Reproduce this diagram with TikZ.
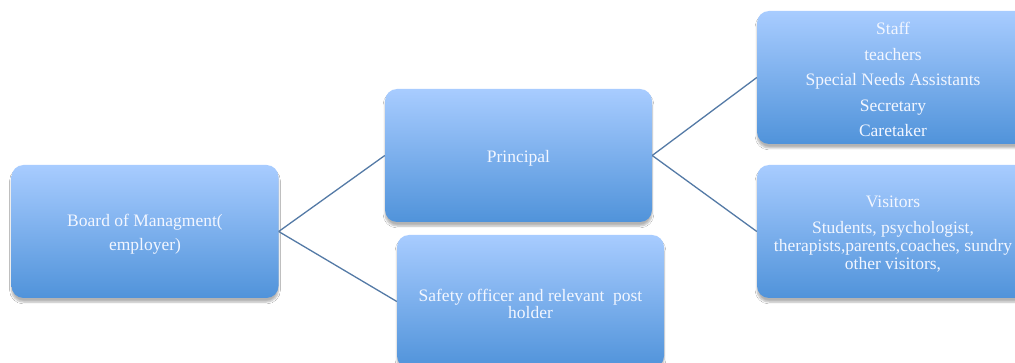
\documentclass[tikz,border=0pt]{standalone}
\usepackage{fontspec}
\setmainfont{Liberation Serif}
\usetikzlibrary{shadows.blur}
\definecolor{boxtop}{RGB}{168,204,255}
\definecolor{boxbot}{RGB}{80,147,218}
\definecolor{linkc}{RGB}{84,122,166}
\definecolor{txt}{RGB}{242,246,255}
\tikzset{
  orgbox/.style={rounded corners=12pt, top color=boxtop, bottom color=boxbot, draw=none,
    minimum width=267pt, minimum height=133pt, inner sep=0pt,
    blur shadow={shadow blur steps=6, shadow xshift=0pt, shadow yshift=-4pt, shadow opacity=30}},
  boxtext/.style={text=txt, align=center, inner sep=0pt, font=\fontsize{17.5}{18}\selectfont},
  link/.style={draw=linkc, line width=1.3pt}
}
\begin{document}
\begin{tikzpicture}[x=1pt,y=-1pt]
\useasboundingbox (0,0) rectangle (1015,363);
\clip (0,0) rectangle (1015,363);
\fill[white] (0,0) rectangle (1015,363);
\node[orgbox] (board) at (145,231.5) {};
\node[orgbox] (principal) at (518.5,155.5) {};
\node[orgbox] (safety) at (530.5,301.5) {};
\node[orgbox, minimum width=272pt] (staff) at (893,77.5) {};
\node[orgbox, minimum width=272pt] (visitors) at (893,231.5) {};
\node[boxtext] (boardT) at ([yshift=-2.5pt]board.center) {Board of Managment(\\[6pt]employer)};
\node[boxtext] (principalT) at ([yshift=-2.5pt]principal.center) {Principal};
\node[boxtext] (safetyT) at ([yshift=-2pt]safety.center) {Safety officer and relevant\ \ post\\[-1pt]holder};
\node[boxtext] (staffT) at ([yshift=-2pt]staff.center) {Staff\\[7.5pt]teachers\\[7.5pt]Special Needs Assistants\\[7.5pt]Secretary\\[7.5pt]Caretaker};
\node[boxtext] (visitorsT) at ([yshift=-2.5pt]visitors.center) {Visitors\\[8pt]Students, psychologist,\\therapists,parents,coaches, sundry\\other visitors,};
\draw[link] (board.east) -- (principal.west);
\draw[link] (board.east) -- (safety.west);
\draw[link] (principal.east) -- (staff.west);
\draw[link] (principal.east) -- (visitors.west);
\end{tikzpicture}
\end{document}
